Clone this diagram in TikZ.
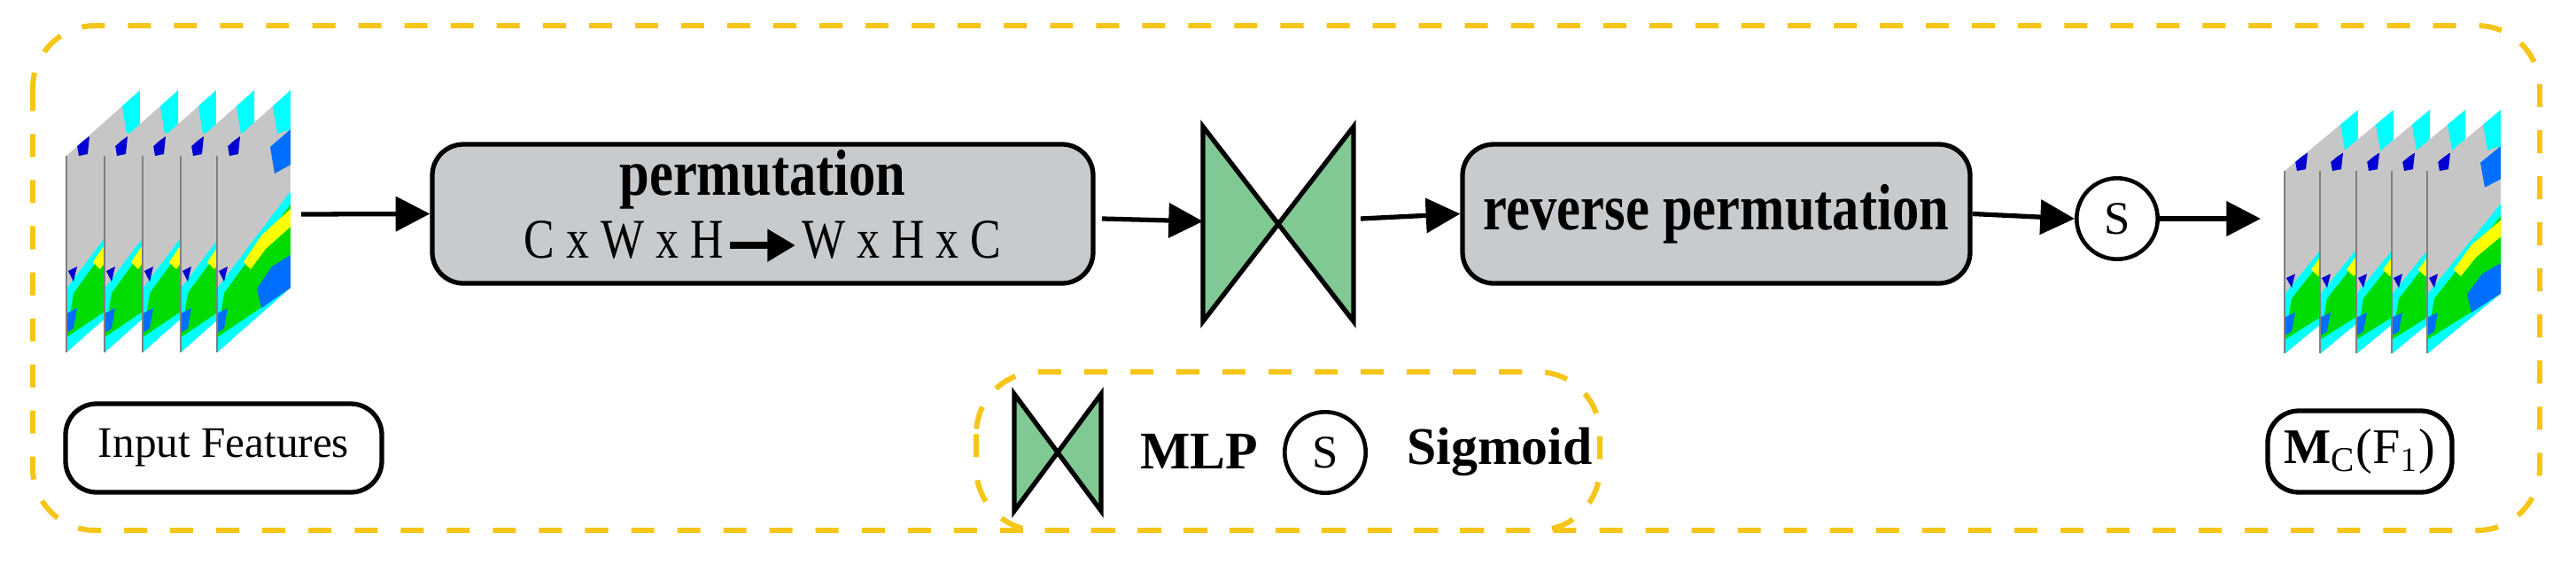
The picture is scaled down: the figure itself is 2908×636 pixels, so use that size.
\documentclass[tikz,border=0pt]{standalone}
\usepackage{fontspec}
\setmainfont{Liberation Serif}
\newfontfamily\condf{Liberation Serif}[FakeStretch=0.82]
\usetikzlibrary{arrows.meta}
\definecolor{ydash}{RGB}{245,197,24}
\definecolor{boxgray}{RGB}{200,203,206}
\definecolor{mlpg}{RGB}{128,200,148}
\definecolor{mapgray}{RGB}{198,198,198}
\definecolor{mgreen}{RGB}{0,220,0}
\definecolor{myel}{RGB}{255,255,0}
\definecolor{mcyan}{RGB}{0,255,255}
\definecolor{mblue}{RGB}{0,110,255}
\definecolor{mdblue}{RGB}{0,0,210}
\tikzset{
  ybox/.style={draw=ydash,line width=1.7pt,dash pattern=on 7.4pt off 7.4pt,rounded corners=20},
  gbox/.style={draw,fill=boxgray,line width=1.5pt,rounded corners=10,inner sep=0pt},
  wbox/.style={draw,fill=white,line width=1.5pt,rounded corners=10,inner sep=0pt},
  arr/.style={line width=1.5pt,-{Triangle[length=11pt,width=11pt]}},
  sig/.style={draw,circle,line width=1.3pt,minimum size=26pt,inner sep=0pt,font=\fontsize{15}{15}\selectfont},
  fmap/.pic={
    \begin{scope}
    \path[clip] (0,0)--(83,-74)--(83,149)--(0,222)--cycle;
    \fill[mapgray] (0,0)--(83,-74)--(83,149)--(0,222)--cycle;
    \fill[mcyan] (0,150)--(30,110)--(83,40)--(83,149)--(0,222)--cycle;
    \fill[mgreen] (8,155)--(35,118)--(83,55)--(83,149)--(0,205)--cycle;
    \fill[myel] (30,120)--(50,90)--(83,60)--(83,80)--(55,105)--(38,128)--cycle;
    \fill[mblue] (45,150)--(62,125)--(83,112)--(83,149)--(50,172)--cycle;
    \fill[mblue] (0,178)--(12,172)--(8,195)--(0,200)--cycle;
    \fill[mcyan] (0,205)--(15,198)--(20,215)--(0,222)--cycle;
    \fill[mdblue] (12,-12)--(26,-22)--(24,-2)--(14,0)--cycle;
    \fill[mcyan] (62,-62)--(83,-80)--(83,-30)--(68,-25)--cycle;
    \fill[mblue] (60,-10)--(83,-30)--(83,10)--(65,20)--cycle;
    \fill[mdblue] (2,130)--(12,125)--(8,142)--cycle;
    \end{scope}
    \draw[gray,line width=0.3pt] (0,0)--(0,222);
  }
}
\begin{document}
\begin{tikzpicture}[x=0.01cm,y=-0.01cm]
\useasboundingbox (0,0) rectangle (2908,636);
% outer box
\draw[ybox] (37,29) rectangle (2867,599);
% input feature maps
\foreach \x in {75,118,161,204,245} \pic at (\x,176) {fmap};
\coordinate (inR) at (340,242);
\node[gbox,minimum width=746*0.01cm,minimum height=157*0.01cm] (perm) at (861,241.5) {};
\node[font=\condf\bfseries\fontsize{21}{21}\selectfont] (pt) at (861,203) {permutation};
\node[font=\condf\fontsize{18}{18}\selectfont,inner sep=0pt] (pl) at (861,272) {C x W x H\hspace{1pt}\tikz[baseline=-4pt]\draw[line width=2.2pt,-{Triangle[length=9pt,width=10pt]}](0pt,0pt)--(21pt,0pt);\hspace{1pt}W x H x C};
\draw[arr] (inR) -- (perm.west);
% MLP
\coordinate (mL) at (1358,250);
\coordinate (mR) at (1528,250);
\draw[fill=mlpg,line width=1.5pt,line join=miter] (1358,143)--(1528,363)--(1528,143)--(1358,363)--cycle;
\draw[arr] (1244,247) -- (mL);
% reverse
\node[gbox,minimum width=573*0.01cm,minimum height=157*0.01cm] (rev) at (1937.5,241.5) {};
\node[font=\condf\bfseries\fontsize{21}{21}\selectfont] at (rev) {reverse permutation};
\draw[arr] (mR) ++(8,-3) -- (rev.west);
\node[sig] (s) at (2390,247) {S};
\draw[arr] (rev.east) -- (s.west);
\foreach \x in {2579,2619,2660,2700,2740} \pic[yscale=0.93] at (\x,193) {fmap};
\coordinate (outL) at (2552,247);
\draw[arr] (s.east) -- (outL);
% labels
\node[wbox,minimum width=357*0.01cm,minimum height=100*0.01cm,font=\fontsize{14}{14}\selectfont] (inp) at (252.5,506) {Input Features};
\node[wbox,minimum width=208*0.01cm,minimum height=92*0.01cm,font=\fontsize{16}{16}\selectfont] (mc) at (2664,510) {$\mathbf{M}_{\mathrm{C}}$(F$_1$)};
% legend
\draw[ybox] (1102,420) rectangle (1806,599);
\draw[fill=mlpg,line width=1.5pt,line join=miter] (1145,445)--(1243,577)--(1243,445)--(1145,577)--cycle;
\node[font=\bfseries\fontsize{17}{17}\selectfont,anchor=west] (mlp) at (1275,510) {MLP};
\node[sig] (ls) at (1496,511) {S};
\node[font=\bfseries\fontsize{17}{17}\selectfont,anchor=west] (sg) at (1576,510) {Sigmoid};
\end{tikzpicture}
\end{document}
